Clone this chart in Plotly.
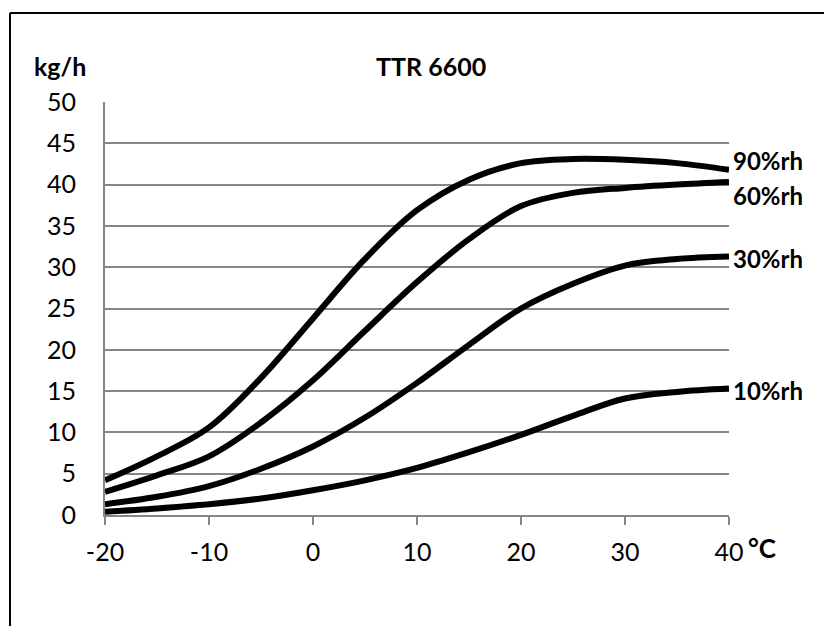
import plotly.graph_objects as go

temps = [-20, -15, -10, -5, 0, 5, 10, 15, 20, 25, 30, 35, 40]
rh90 = [4.2, 7.1, 10.6, 16.6, 23.8, 31.0, 36.9, 40.6, 42.6, 43.1, 43.0, 42.6, 41.8]
rh60 = [2.8, 4.8, 7.1, 11.2, 16.3, 22.3, 28.2, 33.4, 37.4, 39.0, 39.6, 40.0, 40.3]
rh30 = [1.3, 2.2, 3.5, 5.6, 8.3, 11.8, 16.0, 20.6, 25.0, 28.0, 30.2, 31.0, 31.3]
rh10 = [0.4, 0.8, 1.3, 2.0, 3.0, 4.2, 5.7, 7.6, 9.7, 12.0, 14.1, 14.9, 15.3]
series = [("90%rh", rh90, 42.9), ("60%rh", rh60, 38.7), ("30%rh", rh30, 31.1), ("10%rh", rh10, 15.1)]
x_ticks = [-20, -10, 0, 10, 20, 30, 40]
y_ticks = [0, 5, 10, 15, 20, 25, 30, 35, 40, 45, 50]

FONT = "Lato"
OFF = 8  # page body margin
W, H = 832, 626
L, R, T, B = 105 - OFF, 729 - OFF, 102 - OFF, 515 - OFF

def px(x):
    return (x - OFF - L) / (R - L)

def py(y):
    return (B - (y - OFF)) / (B - T)

fig = go.Figure()
for name, vals, _ in series:
    fig.add_trace(go.Scatter(x=temps, y=vals, mode="lines", name=name,
                             line=dict(color="black", width=6, shape="spline", smoothing=1.0),
                             showlegend=False, hoverinfo="skip"))

for name, vals, ly in series:
    fig.add_annotation(x=40, y=ly, text="<b>%s</b>" % name, showarrow=False,
                       xanchor="left", yanchor="middle", xshift=2,
                       font=dict(family=FONT, size=24, color="black"))

fig.add_annotation(x=px(60), y=py(66), xref="paper", yref="paper", text="<b>kg/h</b>",
                   showarrow=False, xanchor="center", yanchor="middle",
                   font=dict(family=FONT, size=25, color="black"))
fig.add_annotation(x=px(431), y=py(66), xref="paper", yref="paper", text="<b>TTR 6600</b>",
                   showarrow=False, xanchor="center", yanchor="middle",
                   font=dict(family=FONT, size=25, color="black"))
fig.add_annotation(x=px(762), y=py(548), xref="paper", yref="paper", text="<b>°C</b>",
                   showarrow=False, xanchor="center", yanchor="middle",
                   font=dict(family=FONT, size=26, color="black"))

fig.add_shape(type="line", xref="paper", yref="paper", x0=px(10), x1=px(W + 20), y0=py(13), y1=py(13),
              line=dict(color="black", width=2))
fig.add_shape(type="line", xref="paper", yref="paper", x0=px(10), x1=px(10), y0=py(13), y1=py(H + 20),
              line=dict(color="black", width=2))

fig.update_xaxes(range=[-20, 40], tickvals=x_ticks, ticktext=[str(v) for v in x_ticks],
                 showgrid=False, zeroline=False, showline=True, linecolor="#868686", linewidth=2,
                 ticks="outside", ticklen=8, tickwidth=2, tickcolor="#868686",
                 ticklabelstandoff=6,
                 tickfont=dict(family=FONT, size=25, color="black"))
fig.update_yaxes(range=[0, 50], tickvals=y_ticks, ticktext=[str(v) for v in y_ticks],
                 showgrid=True, gridcolor="#868686", gridwidth=2, zeroline=False,
                 showline=True, linecolor="#868686", linewidth=2, ticks="",
                 ticklabelstandoff=22,
                 tickfont=dict(family=FONT, size=25, color="black"))

fig.update_layout(width=W, height=H, margin=dict(l=L, r=W - R, t=T, b=H - B, pad=0),
                  paper_bgcolor="white", plot_bgcolor="white", showlegend=False)
fig.write_html("out.html")
